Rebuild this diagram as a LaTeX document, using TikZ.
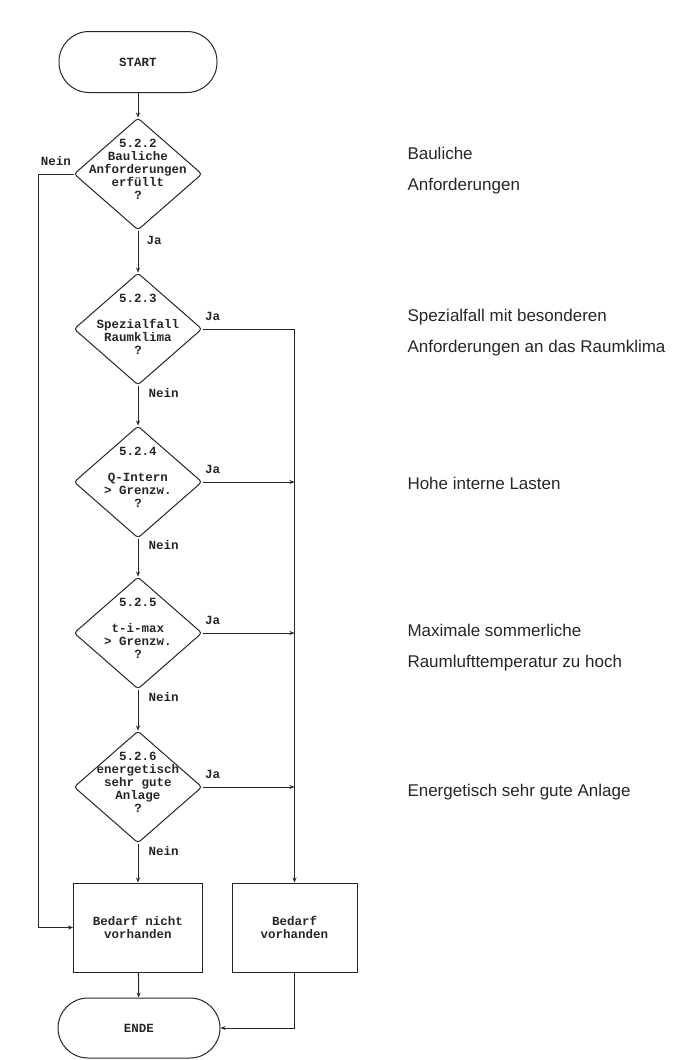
\documentclass[tikz,border=0pt]{standalone}
\usepackage{fontspec}
\setmonofont{Liberation Mono}
\newfontfamily\notefont{Liberation Sans}
\usetikzlibrary{shapes.geometric,arrows.meta}

\newcommand{\flowfont}{\ttfamily\bfseries\fontsize{12.5}{13}\selectfont}
\newcommand{\qtext}[1]{\makebox[0pt]{\smash{\begin{tabular}{@{}c@{}}#1\end{tabular}}}}

\begin{document}
\begin{tikzpicture}[x=1pt, y=-1pt, line width=1pt, color=black!85,
		term/.style={draw, rounded corners=30pt, minimum width=158pt, minimum height=61pt, font=\flowfont},
		frage/.style={diamond, draw, rounded corners=3pt, minimum width=128pt, minimum height=112pt, inner sep=0pt, font=\flowfont},
		kasten/.style={draw, minimum height=89pt, align=center, font=\flowfont},
		lbl/.style={font=\flowfont, inner sep=2pt},
		note/.style={anchor=west, align=left, inner sep=0pt, font=\notefont\fontsize{17}{31}\selectfont},
		pfeil/.style={-{Stealth[length=5pt,width=4pt]}}]
			\useasboundingbox (0,0) rectangle (688,1060);
			
			\node[term] (start) at (138,62) {START};
			\node[frage] (q1) at (138,174) {\qtext{5.2.2\\Bauliche\\Anforderungen\\erfüllt\\?}};
			\node[frage] (q2) at (138,329) {\qtext{5.2.3\\[13pt]Spezialfall\\Raumklima\\?}};
			\node[frage] (q3) at (138,482) {\qtext{5.2.4\\[13pt]Q-Intern\\> Grenzw.\\?}};
			\node[frage] (q4) at (138,633) {\qtext{5.2.5\\[13pt]t-i-max\\> Grenzw.\\?}};
			\node[frage] (q5) at (138,787) {\qtext{5.2.6\\energetisch\\sehr gute\\Anlage\\?}};
			\node[kasten, minimum width=129pt] (bn) at (138,927.5) {Bedarf nicht\\vorhanden};
			\node[kasten, minimum width=125pt] (bv) at (294.5,927.5) {Bedarf\\vorhanden};
			\node[term, minimum width=162pt, minimum height=60pt] (ende) at (139,1028) {ENDE};
			
			\draw[pfeil] (start) -- (q1);
			\draw[pfeil] (q1) -- node[lbl, right=6pt, pos=0.23] {Ja} (q2);
			\draw[pfeil] (q2) -- node[lbl, right=8pt, pos=0.18] {Nein} (q3);
			\draw[pfeil] (q3) -- node[lbl, right=8pt, pos=0.18] {Nein} (q4);
			\draw[pfeil] (q4) -- node[lbl, right=8pt, pos=0.18] {Nein} (q5);
			\draw[pfeil] (q5) -- node[lbl, right=8pt, pos=0.18] {Nein} (bn);
			
			\draw[pfeil] (q1.west) -- node[lbl, above, yshift=6pt] {Nein} ++(-35,0) |- (bn.west);
			\draw[pfeil] (q2.east) -| node[lbl, above right, pos=0, yshift=6pt] {Ja} (bv.north);
			\draw[pfeil] (q3.east) -- node[lbl, above right, pos=0, yshift=6pt] {Ja} (q3.east -| bv.north);
			\draw[pfeil] (q4.east) -- node[lbl, above right, pos=0, yshift=6pt] {Ja} (q4.east -| bv.north);
			\draw[pfeil] (q5.east) -- node[lbl, above right, pos=0, yshift=6pt] {Ja} (q5.east -| bv.north);
			
			\draw[pfeil] (bn) -- (ende);
			\draw[pfeil] (bv.south) |- (ende.east);
			
			\node[note] (t1) at (407,171) {Bauliche\\Anforderungen};
			\node[note] (t2) at (407,332.5) {Spezialfall mit besonderen\\Anforderungen an das Raumklima};
			\node[note] (t3) at (407,483) {Hohe interne Lasten};
			\node[note] (t4) at (407,648) {Maximale sommerliche\\Raumlufttemperatur zu hoch};
			\node[note] (t5) at (407,792) {Energetisch sehr gute Anlage};
		\end{tikzpicture}
\end{document}
